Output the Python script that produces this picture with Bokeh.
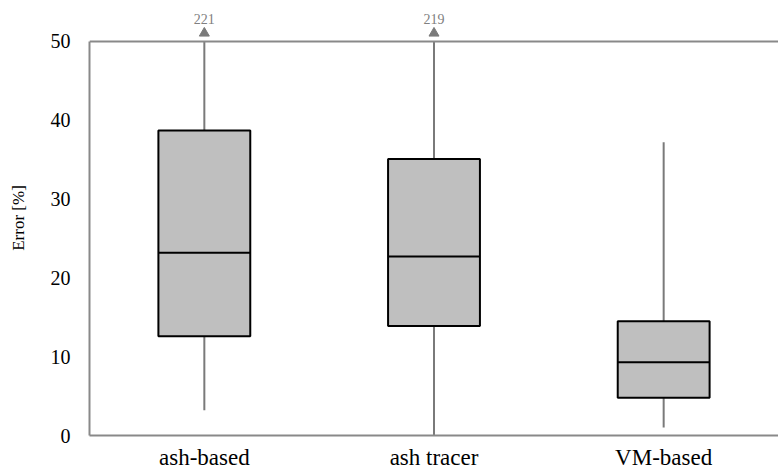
from bokeh.plotting import figure
from bokeh.models import FactorRange, Range1d, Span, FixedTicker, ColumnDataSource
from bokeh.transform import dodge
from bokeh.core.properties import value
from bokeh.embed import file_html
from bokeh.resources import INLINE
import numpy as np

categories = ["ash-based", "ash tracer", "VM-based"]
whisker_low = [3.2, 0.0, 1.0]
q1 = [12.6, 13.9, 4.8]
median = [23.2, 22.7, 9.3]
q3 = [38.7, 35.1, 14.5]
whisker_high = [221, 219, 37.2]
y_ticks = [0, 10, 20, 30, 40, 50]

Y_MAX = 50
SERIF = "Liberation Serif"

wh = np.array(whisker_high, dtype=float)
capped = wh > Y_MAX
src = ColumnDataSource(dict(
    cat=categories, lo=whisker_low, q1=q1, med=median, q3=q3,
    hi=np.minimum(wh, Y_MAX),
))
over_cats = [c for c, f in zip(categories, capped) if f]
over_vals = [str(int(v)) for v, f in zip(whisker_high, capped) if f]

p = figure(width=778, height=472, output_backend="svg", toolbar_location=None,
           x_range=FactorRange(*categories, range_padding=0),
           y_range=Range1d(0, 55.2),
           min_border_left=89, min_border_right=0, min_border_top=0, min_border_bottom=37)
p.outline_line_color = None
p.xgrid.visible = False
p.ygrid.visible = False
p.background_fill_color = "white"
p.border_fill_color = "white"

wcol = "#7a7a7a"
p.segment(x0="cat", y0="q3", x1="cat", y1="hi", source=src, line_color=wcol, line_width=2)
p.segment(x0="cat", y0="lo", x1="cat", y1="q1", source=src, line_color=wcol, line_width=2)
p.vbar(x="cat", width=0.4, bottom="q1", top="q3", source=src,
       fill_color="#bfbfbf", line_color="black", line_width=2)
p.segment(x0=dodge("cat", -0.2, range=p.x_range), y0="med",
          x1=dodge("cat", 0.2, range=p.x_range), y1="med",
          source=src, line_color="black", line_width=2)

p.add_layout(Span(location=Y_MAX, dimension="width", line_color="#898989", line_width=2))

p.scatter(x=over_cats, y=[Y_MAX + 1.05] * len(over_cats), marker="triangle",
          size=10, fill_color=wcol, line_color=wcol)
p.text(x=over_cats, y=[Y_MAX + 2.8] * len(over_cats), text=over_vals,
       text_align="center", text_baseline="middle", text_color="#808080",
       text_font=value(SERIF), text_font_size="14px")

ya = p.yaxis[0]
ya.ticker = FixedTicker(ticks=y_ticks)
ya.bounds = (0, Y_MAX)
ya.axis_line_color = "#898989"
ya.axis_line_width = 2
ya.major_tick_line_color = None
ya.minor_tick_line_color = None
ya.major_label_standoff = 13
ya.major_label_text_font = SERIF
ya.major_label_text_font_size = "20px"
ya.major_label_text_color = "black"
ya.axis_label = "Error [%]"
ya.axis_label_text_font = SERIF
ya.axis_label_text_font_style = "normal"
ya.axis_label_text_font_size = "17px"
ya.axis_label_text_color = "black"
ya.axis_label_standoff = 20

xa = p.xaxis[0]
xa.axis_line_color = "#898989"
xa.axis_line_width = 2
xa.major_tick_line_color = None
xa.minor_tick_line_color = None
xa.major_label_standoff = 3
xa.major_label_text_font = SERIF
xa.major_label_text_font_size = "23px"
xa.major_label_text_color = "black"

open("out.html", "w").write(file_html(p, INLINE))
